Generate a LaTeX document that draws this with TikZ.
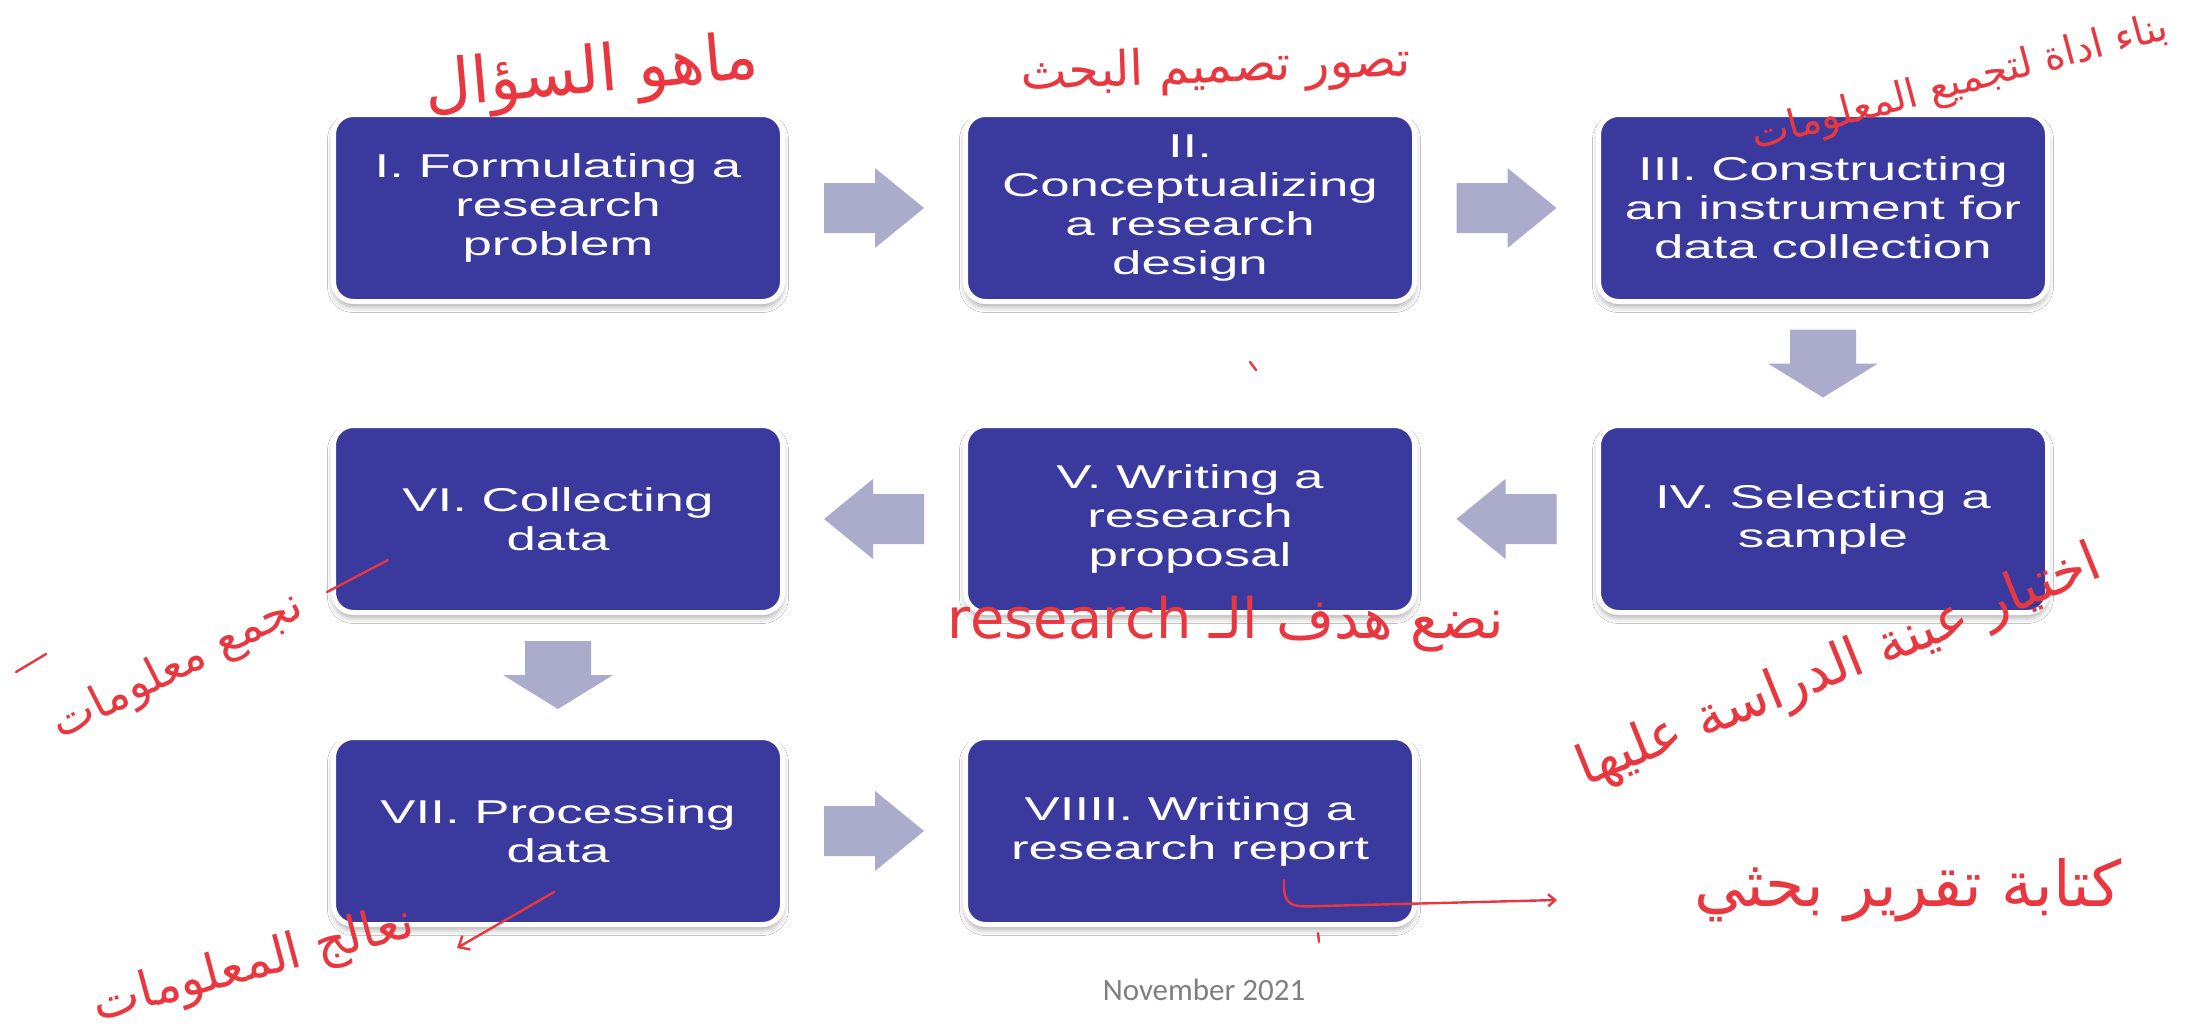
\documentclass[tikz,border=0pt]{standalone}
\usepackage{fontspec}
\usepackage{graphicx}
\usetikzlibrary{calc,shadows.blur,arrows.meta}
\newfontfamily\boxfont[FakeStretch=1.6]{Liberation Sans}
\newfontfamily\datefont{Carlito}
\newfontfamily\arabicfont[Script=Arabic]{DejaVu Sans}
\TeXXeTstate=1
\definecolor{boxblue}{HTML}{3A399D}
\definecolor{arrowgray}{HTML}{ABACCB}
\definecolor{redink}{HTML}{E8373F}
\definecolor{dategray}{HTML}{7F7F7F}
\begin{document}
\begin{tikzpicture}[x=1pt,y=-1pt,
  stepbox/.style={rounded corners=20pt, fill=boxblue, draw=white, line width=5pt,
    minimum width=449pt, minimum height=187pt, inner sep=0pt, text=white, align=center,
    font=\boxfont\fontsize{33}{39}\selectfont,
    blur shadow={shadow xshift=0pt, shadow yshift=-5pt, shadow blur radius=6pt, shadow opacity=35}},
  note/.style={text=redink, inner sep=0pt, font=\arabicfont\fontsize{40}{48}\selectfont},
  ink/.style={draw=redink, line width=2.4pt, line cap=round, line join=round},
  pics/harrow/.style={code={\fill[arrowgray] (-50,-25) -- (1,-25) -- (1,-40) -- (50,0) -- (1,40) -- (1,25) -- (-50,25) -- cycle;}},
  pics/varrow/.style={code={\fill[arrowgray] (-33,-34) -- (-33,0) -- (-55,0) -- (0,34) -- (55,0) -- (33,0) -- (33,-34) -- cycle;}}
]
\useasboundingbox[fill=white] (0,0) rectangle (2187,1033);

% step boxes
\node[stepbox] (I)    at (558,208)  {I. Formulating a\\research\\problem};
\node[stepbox] (II)   at (1190,208) {II.\\Conceptualizing\\a research\\design};
\node[stepbox] (III)  at (1823,208) {III. Constructing\\an instrument for\\data collection};
\node[stepbox] (IV)   at (1823,519) {IV. Selecting a\\sample};
\node[stepbox] (V)    at (1190,519) {V. Writing a\\research\\proposal};
\node[stepbox] (VI)   at (558,519)  {VI. Collecting\\data};
\node[stepbox] (VII)  at (558,831)  {VII. Processing\\data};
\node[stepbox] (VIII) at (1190,831) {VIIII. Writing a\\research report};

% block arrows
\pic at ($(I.east)!0.5!(II.west)$) {harrow};
\pic at ($(II.east)!0.5!(III.west)$) {harrow};
\pic at ($(III.south)!0.5!(IV.north)$) {varrow};
\pic[xscale=-1] at ($(IV.west)!0.5!(V.east)$) {harrow};
\pic[xscale=-1] at ($(V.west)!0.5!(VI.east)$) {harrow};
\pic at ($(VI.south)!0.5!(VII.north)$) {varrow};
\pic at ($(VII.east)!0.5!(VIII.west)$) {harrow};

% date
\node[text=dategray, font=\datefont\fontsize{31}{37}\selectfont, inner sep=0pt] (date) at (1204,990) {November 2021};

% handwritten notes
\node[note, rotate=5] (a1) at (592,76) {\resizebox{335pt}{!}{\beginR ماهو السؤال\endR}};
\node[note, rotate=2] (a2) at (1216,70) {\resizebox{390pt}{!}{\beginR تصور تصميم البحث\endR}};
\node[note, rotate=15] (a3) at (1960,84) {\resizebox{430pt}{!}{\beginR بناء اداة لتجميع المعلومات\endR}};
\node[note, rotate=27] (a4) at (178,667) {\resizebox{275pt}{!}{\beginR نجمع معلومات\endR}};
\node[note] (a5) at (1226,624) {\resizebox{557pt}{!}{\beginR نضع هدف الـ \beginL research\endL\endR}};
\node[note, rotate=22] (a6) at (1840,668) {\resizebox{560pt}{!}{\beginR اختيار عينة الدراسة عليها\endR}};
\node[note, rotate=15] (a7) at (254,966) {\resizebox{330pt}{!}{\beginR نعالج المعلومات\endR}};
\node[note] (a8) at (1908,890) {\resizebox{428pt}{!}{\beginR كتابة تقرير بحثي\endR}};

% red pen strokes
\coordinate (p1) at (388,560);
\coordinate (p2) at (327,592);
\draw[ink] (p1) -- (p2);
\coordinate (d1) at (16,672);
\coordinate (d2) at (46,654);
\draw[ink] (d1) -- (d2);
\coordinate (r1) at (554,892);
\coordinate (r2) at (457,948);
\draw[ink, -{Straight Barb[length=9pt,width=16pt]}] (r1) -- (r2);
\coordinate (q1) at (1284,880);
\coordinate (q2) at (1557,900);
\draw[ink, -{Straight Barb[length=7pt,width=12pt]}] (q1) .. controls (1283,908) and (1292,907) .. (1322,906) -- (q2);
\coordinate (t1) at (1250,362);
\coordinate (t2) at (1256,370);
\draw[ink] (t1) -- (t2);
\coordinate (t3) at (1318,933);
\coordinate (t4) at (1319,942);
\draw[ink] (t3) -- (t4);
\end{tikzpicture}
\end{document}
